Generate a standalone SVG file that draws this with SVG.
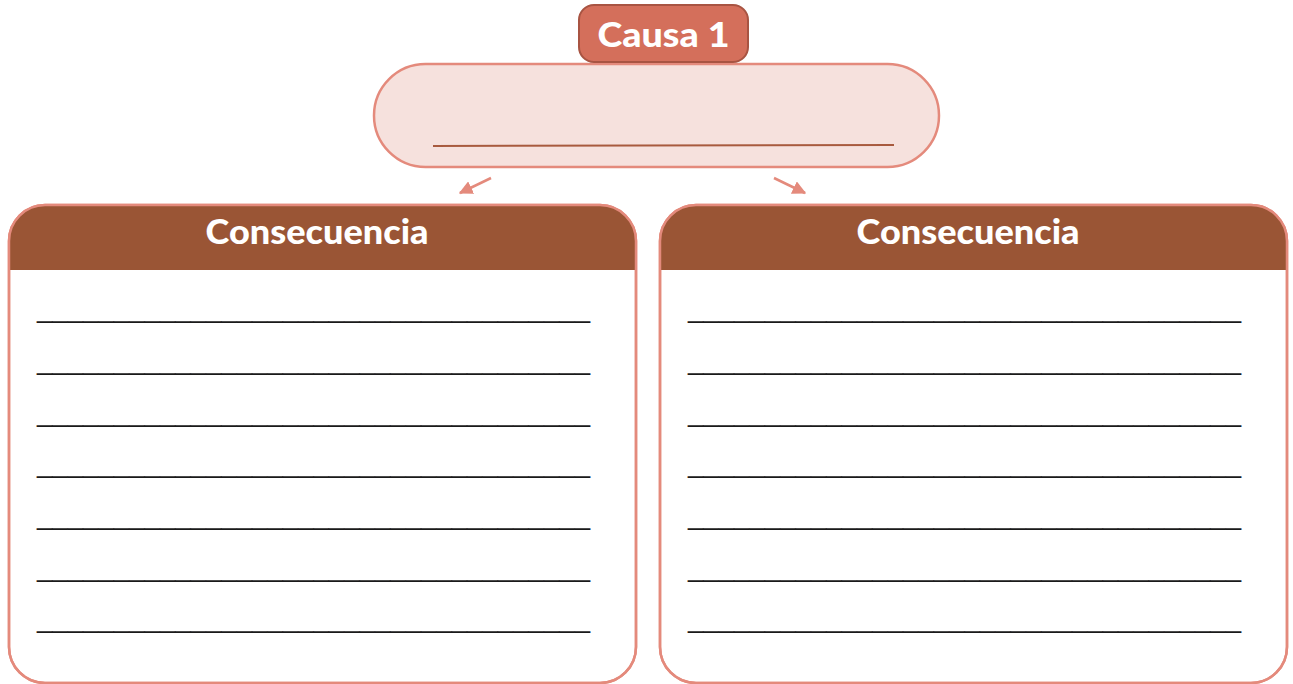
<svg xmlns="http://www.w3.org/2000/svg" width="1293" height="684" viewBox="0 0 1293 684">
<defs>
<style>
.title{font-family:"Lato","Open Sans","Liberation Sans",sans-serif;font-weight:900;fill:#ffffff;text-anchor:middle}
.blank{font-family:"Liberation Sans",sans-serif;font-size:26px;fill:#1a1a1a}
.card{fill:#ffffff;stroke:#e48a7c;stroke-width:2.5}
.head{fill:#9a5535}
.conn{stroke:#e48a7c;stroke-width:2.5;fill:none}
</style>
<marker id="ah" viewBox="0 0 10 10" refX="9" refY="5" markerWidth="5.5" markerHeight="5.5" orient="auto" markerUnits="strokeWidth">
<path d="M0,0 L10,5 L0,10 z" fill="#e48a7c"/>
</marker>
<clipPath id="clipL"><rect x="9" y="205" width="627" height="478" rx="36"/></clipPath>
<clipPath id="clipR"><rect x="660" y="205" width="627" height="478" rx="36"/></clipPath>
</defs>
<rect width="1293" height="684" fill="#ffffff"/>

<g id="causa">
<rect x="374" y="64" width="565" height="103" rx="51.5" fill="#f6e1dd" stroke="#e48a7c" stroke-width="2.5"/>
<line x1="433" y1="146" x2="894" y2="145" stroke="#a85a3e" stroke-width="2"/>
<rect x="579" y="5" width="169" height="57" rx="15" fill="#d46f5b" stroke="#a85442" stroke-width="2"/>
<text class="title" x="663.5" y="47" font-size="34" textLength="132" lengthAdjust="spacingAndGlyphs">Causa 1</text>
</g>

<g id="connectors">
<line class="conn" x1="491" y1="178" x2="460" y2="193" marker-end="url(#ah)"/>
<line class="conn" x1="774" y1="178" x2="805" y2="193" marker-end="url(#ah)"/>
</g>

<g id="consecuencia-1">
<rect class="card" x="9" y="205" width="627" height="478" rx="36"/>
<rect class="head" x="9" y="205" width="627" height="65" clip-path="url(#clipL)"/>
<rect x="9" y="205" width="627" height="478" rx="36" fill="none" stroke="#e48a7c" stroke-width="2.5"/>
<text class="title" x="317" y="244" font-size="34" textLength="223" lengthAdjust="spacingAndGlyphs">Consecuencia</text>
<text class="blank" x="37" y="318" textLength="553" lengthAdjust="spacingAndGlyphs">____________________________________</text>
<text class="blank" x="37" y="370" textLength="553" lengthAdjust="spacingAndGlyphs">____________________________________</text>
<text class="blank" x="37" y="422" textLength="553" lengthAdjust="spacingAndGlyphs">____________________________________</text>
<text class="blank" x="37" y="473" textLength="553" lengthAdjust="spacingAndGlyphs">____________________________________</text>
<text class="blank" x="37" y="525" textLength="553" lengthAdjust="spacingAndGlyphs">____________________________________</text>
<text class="blank" x="37" y="577" textLength="553" lengthAdjust="spacingAndGlyphs">____________________________________</text>
<text class="blank" x="37" y="628" textLength="553" lengthAdjust="spacingAndGlyphs">____________________________________</text>
</g>

<g id="consecuencia-2">
<rect class="card" x="660" y="205" width="627" height="478" rx="36"/>
<rect class="head" x="660" y="205" width="627" height="65" clip-path="url(#clipR)"/>
<rect x="660" y="205" width="627" height="478" rx="36" fill="none" stroke="#e48a7c" stroke-width="2.5"/>
<text class="title" x="968" y="244" font-size="34" textLength="223" lengthAdjust="spacingAndGlyphs">Consecuencia</text>
<text class="blank" x="688" y="318" textLength="553" lengthAdjust="spacingAndGlyphs">____________________________________</text>
<text class="blank" x="688" y="370" textLength="553" lengthAdjust="spacingAndGlyphs">____________________________________</text>
<text class="blank" x="688" y="422" textLength="553" lengthAdjust="spacingAndGlyphs">____________________________________</text>
<text class="blank" x="688" y="473" textLength="553" lengthAdjust="spacingAndGlyphs">____________________________________</text>
<text class="blank" x="688" y="525" textLength="553" lengthAdjust="spacingAndGlyphs">____________________________________</text>
<text class="blank" x="688" y="577" textLength="553" lengthAdjust="spacingAndGlyphs">____________________________________</text>
<text class="blank" x="688" y="628" textLength="553" lengthAdjust="spacingAndGlyphs">____________________________________</text>
</g>
</svg>
